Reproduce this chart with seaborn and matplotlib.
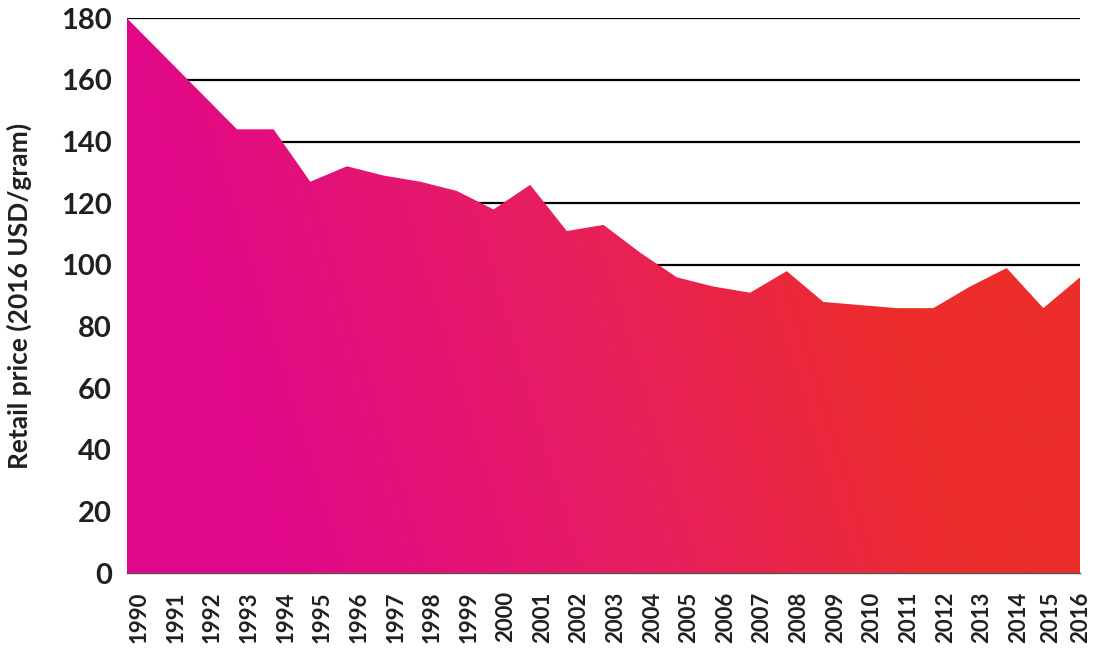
import numpy as np
import pandas as pd
import matplotlib
matplotlib.use("Agg")
import matplotlib.pyplot as plt
import seaborn as sns
from matplotlib.colors import LinearSegmentedColormap
import matplotlib.transforms as mtransforms

years = list(range(1990, 2017))
prices = [180, 168, 156, 144, 144, 127, 132, 129, 127, 124, 118, 126, 111, 113,
          104, 96, 93, 91, 98, 88, 87, 86, 86, 93, 99, 86, 96]
yticks = [0, 20, 40, 60, 80, 100, 120, 140, 160, 180]
ylabel = "Retail price (2016 USD/gram)"

sns.set_theme(style="white")
plt.rcParams['font.family'] = ['Lato', 'DejaVu Sans']

W, H = 1093, 649
fig = plt.figure(figsize=(W / 100, H / 100), dpi=100)
ax = fig.add_axes([127 / W, 1 - 573.3 / H, 953 / W, (573.3 - 18.3) / H])

df = pd.DataFrame({"year": years, "price": prices})
sns.lineplot(data=df, x="year", y="price", ax=ax, color="#E8186A", linewidth=0)
poly = ax.fill_between(df["year"], 0, df["price"], facecolor="none", edgecolor="none")

# diagonal gradient magenta -> red
nx, ny = 800, 400
xs = np.linspace(years[0], years[-1], nx)
ys = np.linspace(0, 180, ny)
X, Y = np.meshgrid(xs, ys)
t = (X - years[0]) * 36.65 + 0.3 * Y * 3.083
t = np.clip((t - 150) / (860 - 150), 0, 1)
cmap = LinearSegmentedColormap.from_list("g", ["#E1078A", "#E71D62", "#EC2D29"])
im = ax.imshow(t, extent=[years[0], years[-1], 0, 180], origin="lower",
               aspect="auto", cmap=cmap, vmin=0, vmax=1, zorder=2,
               interpolation="bilinear")
im.set_clip_path(poly.get_paths()[0], transform=ax.transData)

ax.set_xlim(years[0], years[-1])
ax.set_ylim(0, 180)
ax.set_axisbelow(True)
ax.yaxis.grid(True, color="black", linewidth=1.6)
ax.xaxis.grid(False)
for s in ["top", "right", "left"]:
    ax.spines[s].set_visible(False)
ax.spines["bottom"].set_color("#555555")
ax.spines["bottom"].set_linewidth(1.0)
ax.spines["bottom"].set_zorder(3)

txt = "#231F20"
ax.set_yticks(yticks)
ax.set_yticklabels([str(v) for v in yticks], fontsize=21, fontweight="bold", color=txt)
ax.tick_params(axis="y", length=0, pad=11)
ax.set_xticks(years)
ax.set_xticklabels([str(y) for y in years], rotation=90, fontsize=16,
                   fontweight="bold", color=txt)
ax.tick_params(axis="x", length=0, pad=13)
ax.set_xlabel("")
ax.set_ylabel(ylabel, fontsize=19, fontweight="bold", color=txt)
ax.yaxis.set_label_coords(-0.0997, 0.5)

n = len(years)
for i, lab in enumerate(ax.get_xticklabels()):
    dx = 12 if i < n - 2 else (7 if i == n - 2 else 1)
    lab.set_transform(lab.get_transform() + mtransforms.ScaledTranslation(dx / 100, 0, fig.dpi_scale_trans))

fig.savefig("out.png", dpi=100)
